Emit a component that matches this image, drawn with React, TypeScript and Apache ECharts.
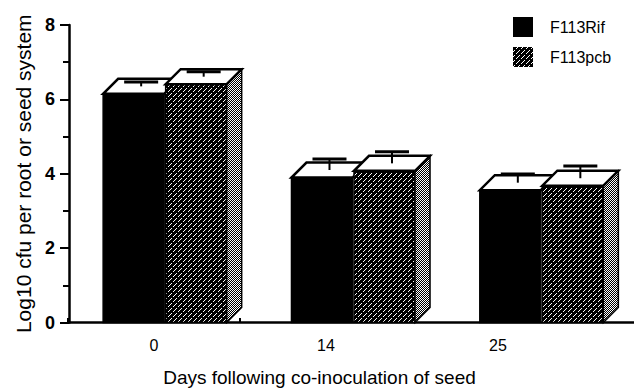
import React, { useEffect, useRef } from "react";
import * as echarts from "echarts";

const categories = ["0", "14", "25"];
const seriesNames = ["F113Rif", "F113pcb"];
const rifValues = [6.35, 4.1, 3.76];
const rifErrors = [0.12, 0.3, 0.23];
const pcbValues = [6.61, 4.28, 3.88];
const pcbErrors = [0.13, 0.31, 0.33];
const yMin = 0;
const yMax = 8;
const yInterval = 2;

const FONT = "Liberation Sans, Arial, Helvetica, sans-serif";
const DX = 15;
const DY = 15;
const CAP = 17;

function makeTile(w: number, h: number, draw: (ctx: CanvasRenderingContext2D) => void): string {
  const c = document.createElement("canvas");
  c.width = w;
  c.height = h;
  const ctx = c.getContext("2d") as CanvasRenderingContext2D;
  draw(ctx);
  return c.toDataURL();
}

export default function App() {
  const ref = useRef<HTMLDivElement>(null);

  useEffect(() => {
    if (!ref.current) return;
    const hatchURL = makeTile(10, 10, (ctx) => {
      ctx.fillStyle = "#000";
      ctx.fillRect(0, 0, 10, 10);
      ctx.fillStyle = "#fff";
      for (let i = 0; i < 10; i++) {
        for (let j = 0; j < 10; j++) {
          if ((i + j) % 5 === 4 && i % 5 !== 2) ctx.fillRect(i, j, 1, 1);
        }
      }
    });
    const stippleURL = makeTile(4, 4, (ctx) => {
      ctx.fillStyle = "#000";
      ctx.fillRect(0, 0, 4, 4);
      ctx.fillStyle = "#fff";
      for (let i = 0; i < 4; i++) {
        for (let j = 0; j < 4; j++) {
          if ((i + j) % 2 === 0) ctx.fillRect(i, j, 1, 1);
        }
      }
    });
    const hatch: any = { image: hatchURL, repeat: "repeat", imageWidth: 10, imageHeight: 10 };
    const stipple: any = { image: stippleURL, repeat: "repeat", imageWidth: 4, imageHeight: 4 };

    const chart = echarts.init(ref.current, null, { renderer: "svg" });

    const makeRender = (kind: number) => (params: any, api: any) => {
      const ci = api.value(0);
      const v = api.value(1);
      const e = api.value(2);
      const band = api.size([1, 0])[0];
      const bw = band * 0.324;
      const p0 = api.coord([ci, 0]);
      const cx = p0[0];
      const base = p0[1];
      const yMid = api.coord([ci, v])[1];
      const yCap = api.coord([ci, v + e])[1];
      const x0 = kind === 0 ? cx - bw + 1 : cx + 2.5;
      const x1 = x0 + bw;
      const yTop = yMid + DY / 2;
      const xm = (x0 + x1) / 2 + DX / 2;
      const children: any[] = [];
      children.push({
        type: "rect",
        shape: { x: x0, y: yTop, width: bw, height: base - yTop },
        style: { fill: kind === 0 ? "#000" : hatch, stroke: "#000", lineWidth: 1.5 },
      });
      if (kind === 1) {
        children.push({
          type: "polygon",
          shape: { points: [[x1, yTop], [x1 + DX, yTop - DY], [x1 + DX, base - DY], [x1, base]] },
          style: { fill: stipple, stroke: "#000", lineWidth: 1.5 },
        });
      }
      children.push({
        type: "polygon",
        shape: { points: [[x0, yTop], [x1, yTop], [x1 + DX, yTop - DY], [x0 + DX, yTop - DY]] },
        style: { fill: "#fff", stroke: "#000", lineWidth: 2.5 },
      });
      children.push({
        type: "line",
        shape: { x1: xm, y1: yMid, x2: xm, y2: yCap },
        style: { stroke: "#000", lineWidth: 2 },
      });
      children.push({
        type: "line",
        shape: { x1: xm - CAP, y1: yCap, x2: xm + CAP, y2: yCap },
        style: { stroke: "#000", lineWidth: 3 },
      });
      return { type: "group", children };
    };

    const option: any = {
      animation: false,
      backgroundColor: "#fff",
      textStyle: { fontFamily: FONT },
      legend: {
        orient: "vertical",
        left: 508,
        top: 12,
        itemWidth: 20,
        itemHeight: 20,
        itemGap: 10,
        icon: "rect",
        selectedMode: false,
        textStyle: { fontSize: 16, color: "#000", fontFamily: FONT, padding: [0, 0, 0, 12] },
        data: [
          { name: seriesNames[0], itemStyle: { color: "#000", borderWidth: 0 } },
          { name: seriesNames[1], itemStyle: { color: hatch, borderWidth: 0 } },
        ],
      },
      grid: [
        { left: 69, right: 0, top: 25, bottom: 69.5 },
        { left: 68, right: 50, top: 25, bottom: 69.5 },
      ],
      xAxis: [
        {
          type: "category",
          gridIndex: 0,
          data: categories,
          axisLine: { show: true, lineStyle: { color: "#000", width: 2.5 } },
          axisTick: { show: false },
          axisLabel: { show: false },
          splitLine: { show: false },
        },
        {
          type: "value",
          gridIndex: 1,
          min: 0,
          max: categories.length,
          interval: 1,
          axisLine: { show: false },
          axisTick: {
            show: true,
            inside: false,
            length: 5,
            lineStyle: { color: "#000", width: 2 },
            customValues: categories.map((_, i) => i),
          },
          axisLabel: {
            show: true,
            margin: 19,
            fontSize: 16,
            color: "#000",
            fontFamily: FONT,
            customValues: categories.map((_, i) => i + 0.5),
            formatter: (val: number) => categories[Math.floor(val)] ?? "",
          },
          splitLine: { show: false },
          name: "Days following co-inoculation of seed",
          nameLocation: "middle",
          nameGap: 50,
          nameTextStyle: { fontSize: 19, color: "#000", fontFamily: FONT, padding: [0, 13, 0, 0] },
        },
      ],
      yAxis: [
        {
          type: "value",
          gridIndex: 0,
          min: yMin,
          max: yMax,
          interval: yInterval,
          axisLine: { show: true, lineStyle: { color: "#000", width: 2.5 } },
          axisTick: { show: true, inside: false, length: 9, lineStyle: { color: "#000", width: 2 } },
          minorTick: { show: true, splitNumber: 2, length: 6, lineStyle: { color: "#000", width: 2 } },
          axisLabel: { margin: 14, fontSize: 18, fontWeight: "bold", color: "#000", fontFamily: FONT },
          splitLine: { show: false },
          name: "Log10 cfu per root or seed system",
          nameLocation: "middle",
          nameGap: 32,
          nameTextStyle: { fontSize: 21, color: "#000", fontFamily: FONT },
        },
        {
          type: "value",
          gridIndex: 1,
          min: yMin,
          max: yMax,
          show: false,
        },
      ],
      series: [
        {
          type: "custom",
          name: seriesNames[0],
          xAxisIndex: 0,
          yAxisIndex: 0,
          itemStyle: { color: "#000" },
          renderItem: makeRender(0),
          encode: { x: 0, y: 1 },
          data: categories.map((_, i) => [i, rifValues[i], rifErrors[i]]),
        },
        {
          type: "custom",
          name: seriesNames[1],
          xAxisIndex: 0,
          yAxisIndex: 0,
          itemStyle: { color: hatch },
          renderItem: makeRender(1),
          encode: { x: 0, y: 1 },
          data: categories.map((_, i) => [i, pcbValues[i], pcbErrors[i]]),
        },
      ],
    };

    chart.setOption(option);
    return () => chart.dispose();
  }, []);

  return (
    <div
      ref={ref}
      style={{ position: "fixed", left: 0, top: 0, width: 634, height: 392, background: "#fff" }}
    />
  );
}
